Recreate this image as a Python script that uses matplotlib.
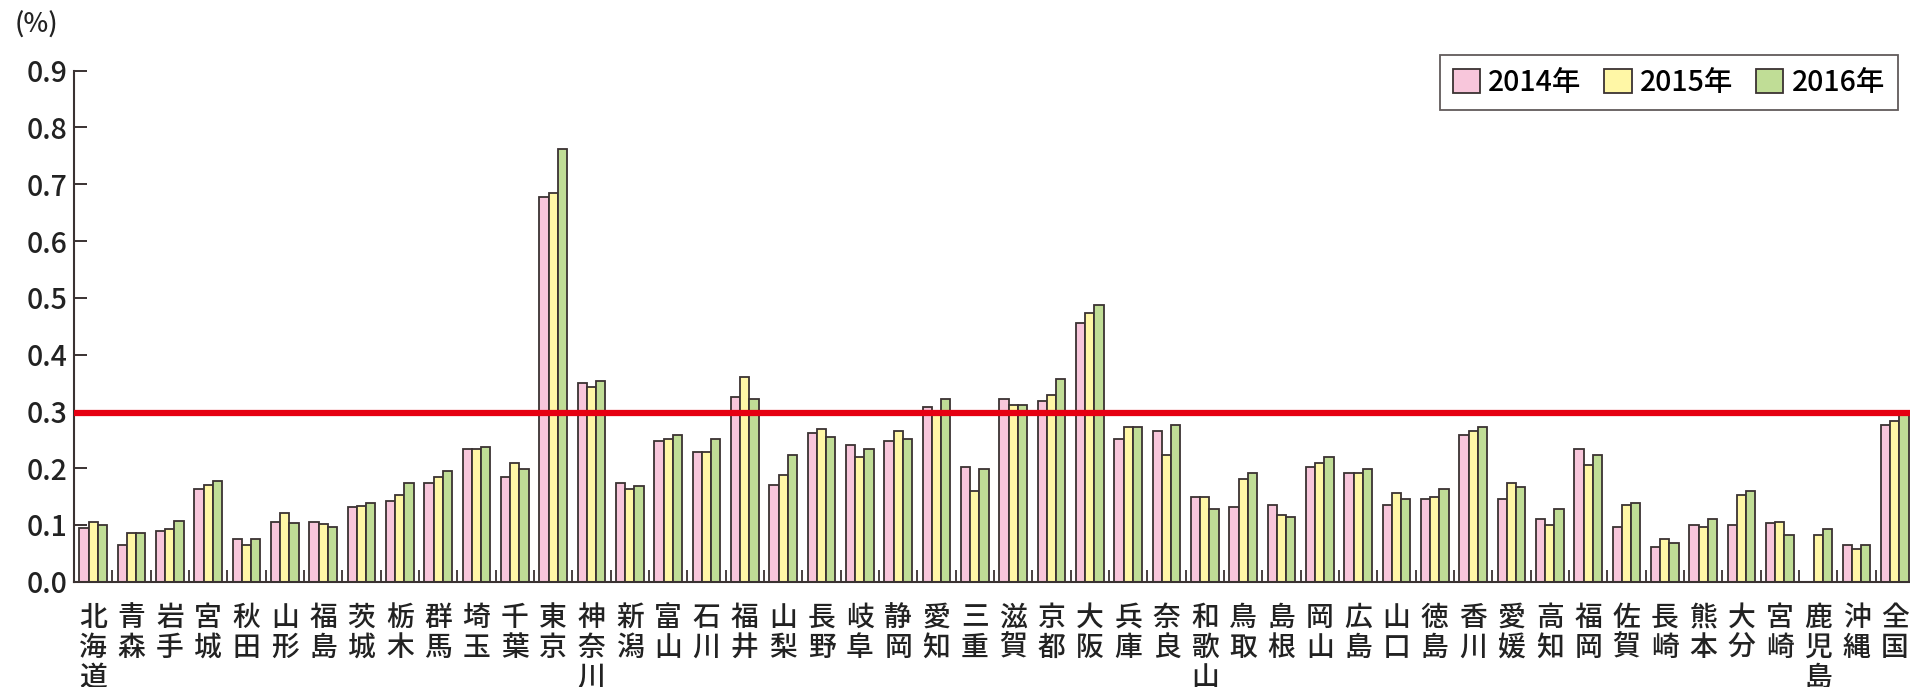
import numpy as np
import matplotlib
matplotlib.use("Agg")
import matplotlib.pyplot as plt

plt.rcParams['font.family'] = ['Noto Sans CJK JP', 'DejaVu Sans']

# data (%)
PREFS = ["北海道", "青森", "岩手", "宮城", "秋田", "山形", "福島", "茨城", "栃木", "群馬",
         "埼玉", "千葉", "東京", "神奈川", "新潟", "富山", "石川", "福井", "山梨", "長野",
         "岐阜", "静岡", "愛知", "三重", "滋賀", "京都", "大阪", "兵庫", "奈良", "和歌山",
         "鳥取", "島根", "岡山", "広島", "山口", "徳島", "香川", "愛媛", "高知", "福岡",
         "佐賀", "長崎", "熊本", "大分", "宮崎", "鹿児島", "沖縄", "全国"]

V2014 = [0.095, 0.065, 0.089, 0.163, 0.075, 0.106, 0.106, 0.131, 0.142, 0.174,
         0.233, 0.184, 0.677, 0.350, 0.174, 0.248, 0.229, 0.325, 0.170, 0.262,
         0.241, 0.248, 0.307, 0.202, 0.321, 0.318, 0.456, 0.251, 0.265, 0.149,
         0.131, 0.135, 0.202, 0.191, 0.135, 0.145, 0.258, 0.145, 0.110, 0.234,
         0.096, 0.061, 0.099, 0.099, 0.103, np.nan, 0.064, 0.276]
V2015 = [0.106, 0.085, 0.092, 0.170, 0.064, 0.121, 0.102, 0.134, 0.152, 0.184,
         0.233, 0.209, 0.685, 0.343, 0.163, 0.251, 0.229, 0.361, 0.188, 0.269,
         0.219, 0.265, 0.296, 0.159, 0.311, 0.328, 0.474, 0.272, 0.223, 0.149,
         0.181, 0.117, 0.209, 0.191, 0.156, 0.149, 0.265, 0.174, 0.099, 0.205,
         0.135, 0.075, 0.096, 0.152, 0.106, 0.082, 0.057, 0.283]
V2016 = [0.099, 0.085, 0.107, 0.177, 0.075, 0.104, 0.096, 0.138, 0.174, 0.195,
         0.238, 0.198, 0.762, 0.354, 0.169, 0.258, 0.251, 0.322, 0.223, 0.255,
         0.233, 0.251, 0.321, 0.198, 0.311, 0.357, 0.488, 0.272, 0.276, 0.128,
         0.191, 0.114, 0.219, 0.198, 0.145, 0.163, 0.272, 0.166, 0.128, 0.223,
         0.138, 0.068, 0.110, 0.159, 0.082, 0.092, 0.064, 0.294]

SERIES = ["2014年", "2015年", "2016年"]
NATIONAL_LINE = 0.297

YTICKS = [0.0, 0.1, 0.2, 0.3, 0.4, 0.5, 0.6, 0.7, 0.8, 0.9]
YTICK_LABELS = ["0.0", "0.1", "0.2", "0.3", "0.4", "0.5", "0.6", "0.7", "0.8", "0.9"]

COLORS = ["#F8C6DB", "#FFF7A6", "#C0DD96"]
EDGE = "#3a3232"
TXT = "#222222"

W, H = 1910, 687
fig = plt.figure(figsize=(W / 100, H / 100), dpi=100)
ax = fig.add_axes([74 / W, (H - 581.7) / H, 1840 / W, 511 / H])

x = np.arange(len(PREFS))
bw = 0.24
for k, vals in enumerate([V2014, V2015, V2016]):
    ax.bar(x + (k - 1) * bw, vals, width=bw, color=COLORS[k], edgecolor=EDGE,
           linewidth=1.3, label=SERIES[k], zorder=2)

# national average line
ax.axhline(NATIONAL_LINE, color="#E60012", linewidth=4.5, zorder=4)

ax.set_xlim(-0.5, len(PREFS) - 0.5)
ax.set_ylim(0, 0.9)

for s in ["top", "right"]:
    ax.spines[s].set_visible(False)
for s in ["left", "bottom"]:
    ax.spines[s].set_color(EDGE)
    ax.spines[s].set_linewidth(1.5)

ax.set_yticks(YTICKS)
ax.set_yticklabels(YTICK_LABELS, fontsize=20.5, color=TXT, fontweight="medium")
ax.tick_params(axis="y", direction="in", length=9, width=1.4, color=EDGE, pad=5)

ax.set_xticks(x)
ax.set_xticklabels(["\n".join(p) for p in PREFS], fontsize=20, linespacing=1.05,
                   va="top", color=TXT, fontweight="medium")
ax.set_xticks(np.arange(0.5, len(PREFS) - 1, 1), minor=True)
ax.tick_params(axis="x", which="major", length=0, pad=15)
ax.tick_params(axis="x", which="minor", direction="in", length=8.5, width=1.3, color=EDGE)

fig.text(15 / W, 1 - 25 / H, "(%)", fontsize=19, va="center", ha="left", color=TXT,
         fontweight="medium")

leg = ax.legend(loc="upper right", bbox_to_anchor=(1898 / W, 1 - 55 / H),
                bbox_transform=fig.transFigure, ncol=3,
                prop={"size": 20.5, "weight": "medium"},
                frameon=True, fancybox=False, borderaxespad=0,
                handlelength=0.95, handleheight=0.9, handletextpad=0.3,
                columnspacing=0.8, borderpad=0.45)
leg.get_frame().set_edgecolor(EDGE)
leg.get_frame().set_linewidth(1.3)

fig.savefig("out.png", dpi=100)
